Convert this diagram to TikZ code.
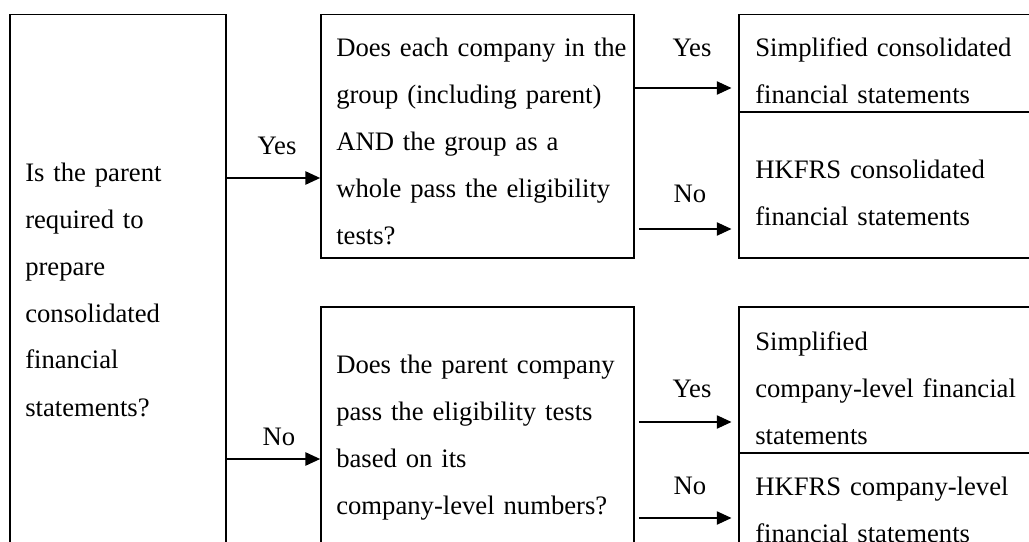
\documentclass[tikz,border=0pt]{standalone}
\usepackage{fontspec}
\setmainfont{Liberation Serif}
\usetikzlibrary{arrows.meta,fit}
\tikzset{
	box/.style={draw, line width=1.3pt, inner sep=0pt},
	txt/.style={anchor=base west, inner sep=0pt, align=left, text width=230pt, font=\fontsize{20}{35.25}\selectfont},
	lbl/.style={anchor=base, inner sep=0pt, font=\fontsize{20}{24}\selectfont},
	arr/.style={line width=0.9pt, -{Triangle[length=11pt,width=10pt]}}
}

\begin{document}
\begin{tikzpicture}[x=0.75pt, y=-0.75pt]
			%%%%% START %%%%%
			
			\fill[white] (0, 0) rectangle (1029, 542);
			\useasboundingbox (0, 0) rectangle (1029, 542);
			\clip (0, 0) rectangle (1029, 542);
			
			\node[box, fit={(10, 14.5) (226, 580)}] (qroot) {};
			\node[box, fit={(321, 14.5) (634, 258)}] (qgroup) {};
			\node[box, fit={(321, 307) (634, 580)}] (qparent) {};
			
			\node[box, fit={(739, 14.5) (1060, 112)}] (simpcons) {};
			\node[box, fit={(739, 112) (1060, 258)}] (fullcons) {};
			\node[box, fit={(739, 307) (1060, 453)}] (simpcomp) {};
			\node[box, fit={(739, 453) (1060, 580)}] (fullcomp) {};
			
			\node[txt] (troot) at (25, 181) {Is the parent\\required to\\prepare\\consolidated\\financial\\statements?};
			\node[txt] (tgroup) at (336, 57) {Does each company in the\\group (including parent)\\AND the group as a\\whole pass the eligibility\\tests?};
			\node[txt] (tparent) at (336, 373) {Does the parent company\\pass the eligibility tests\\based on its\\company-level numbers?};
			
			\node[txt] (tsimpcons) at (755, 57) {Simplified consolidated\\financial statements};
			\node[txt] (tfullcons) at (755, 179) {HKFRS consolidated\\financial statements};
			\node[txt] (tsimpcomp) at (755, 350) {Simplified\\company-level financial\\statements};
			\node[txt] (tfullcomp) at (755, 495) {HKFRS company-level\\financial statements};
			
			\draw[arr] (qroot.east |- 0, 178) -- (qgroup.west |- 0, 178);
			\node[lbl] (yesroot) at (277, 154) {Yes};
			\draw[arr] (qroot.east |- 0, 459) -- (qparent.west |- 0, 459);
			\node[lbl] (noroot) at (279, 445) {No};
			
			\draw[arr, shorten >=5pt] (qgroup.east |- 0, 88) -- (simpcons.west |- 0, 88);
			\node[lbl] (yesgroup) at (692, 57) {Yes};
			\draw[arr, shorten <=3pt, shorten >=5pt] (qgroup.east |- 0, 229) -- (fullcons.west |- 0, 229);
			\node[lbl] (nogroup) at (690, 202) {No};
			
			\draw[arr, shorten <=3pt, shorten >=5pt] (qparent.east |- 0, 422) -- (simpcomp.west |- 0, 422);
			\node[lbl] (yesparent) at (692, 397) {Yes};
			\draw[arr, shorten <=3pt, shorten >=5pt] (qparent.east |- 0, 518) -- (fullcomp.west |- 0, 518);
			\node[lbl] (noparent) at (690, 494) {No};
			
			%%%%% END %%%%%
\end{tikzpicture}
\end{document}
